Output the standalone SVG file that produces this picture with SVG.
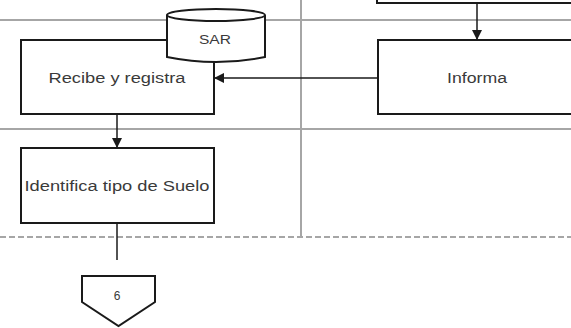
<svg xmlns="http://www.w3.org/2000/svg" width="571" height="328" viewBox="0 0 571 328">
<style>
.lane{stroke:#a6a6a6;stroke-width:2;fill:none}
.box{fill:#fff;stroke:#1a1a1a;stroke-width:2}
.edge{stroke:#1a1a1a;stroke-width:1.5;fill:none}
.t{font-family:"Liberation Sans",Arial,sans-serif;font-size:14px;fill:#3a3a3a;text-anchor:middle;dominant-baseline:central}
</style>
<defs>
<marker id="ah" viewBox="0 0 10 10" refX="9" refY="5" markerWidth="7" markerHeight="7" orient="auto">
<path d="M0,0 L10,5 L0,10 z" fill="#1a1a1a"/>
</marker>
</defs>
<rect width="571" height="328" fill="#fff"/>
<g id="lanes">
<line class="lane" x1="0" y1="20" x2="571" y2="20"/>
<line class="lane" x1="0" y1="129" x2="571" y2="129"/>
<line class="lane" x1="0" y1="237" x2="571" y2="237" stroke-dasharray="6,3"/>
<line class="lane" x1="301" y1="0" x2="301" y2="237"/>
</g>
<g id="top-box">
<rect class="box" x="377" y="-20" width="210" height="23"/>
</g>
<g id="informa">
<rect class="box" x="378" y="40" width="210" height="74"/>
<text class="t" x="477" y="78" textLength="60" lengthAdjust="spacingAndGlyphs">Informa</text>
</g>
<g id="recibe">
<rect class="box" x="21" y="40" width="193" height="74"/>
<text class="t" x="117" y="78" textLength="137" lengthAdjust="spacingAndGlyphs">Recibe y registra</text>
</g>
<g id="sar">
<path class="box" d="M167,15 L167,57 Q216,67 265,57 L265,15"/>
<ellipse class="box" cx="216" cy="15" rx="49" ry="6"/>
<text class="t" x="215" y="40" style="font-size:12px" textLength="32" lengthAdjust="spacingAndGlyphs">SAR</text>
</g>
<g id="identifica">
<rect class="box" x="21" y="148" width="193" height="75"/>
<text class="t" x="117" y="186" textLength="185" lengthAdjust="spacingAndGlyphs">Identifica tipo de Suelo</text>
</g>
<g id="offpage">
<path class="box" d="M82,276 L155,276 L155,302 L118.5,326 L82,302 Z"/>
<text class="t" x="117" y="296" style="font-size:12px">6</text>
</g>
<g id="connectors">
<line class="edge" x1="477" y1="3" x2="477" y2="39" marker-end="url(#ah)"/>
<line class="edge" x1="378" y1="78" x2="215" y2="78" marker-end="url(#ah)"/>
<line class="edge" x1="117" y1="114" x2="117" y2="147" marker-end="url(#ah)"/>
<line class="edge" x1="117" y1="223" x2="117" y2="260"/>
</g>
</svg>
